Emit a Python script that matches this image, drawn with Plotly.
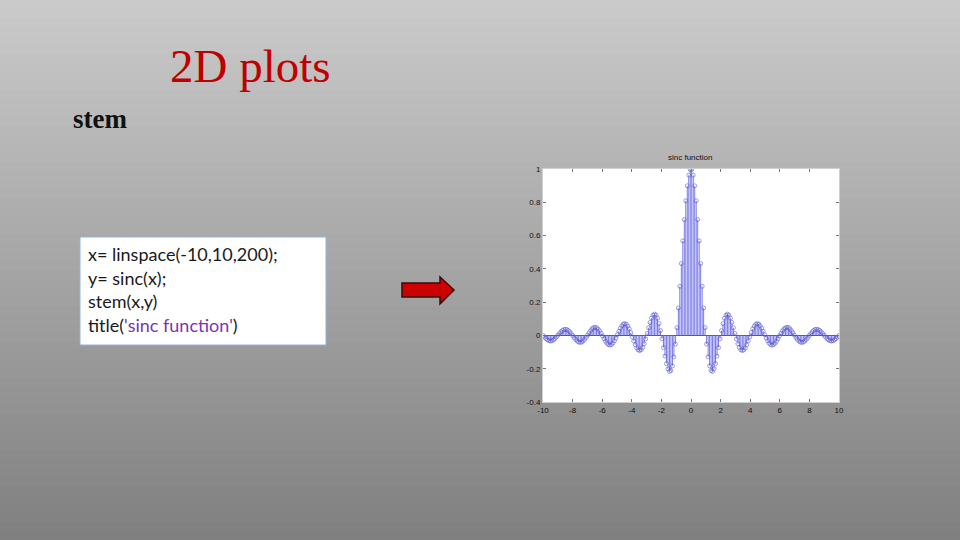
import plotly.graph_objects as go

# ---- data: x = linspace(-10,10,200), y = sinc(x) values ----
x_vals = [
    -10.000, -9.899, -9.799, -9.698, -9.598, -9.497, -9.397, -9.296, -9.196, -9.095,
    -8.995, -8.894, -8.794, -8.693, -8.593, -8.492, -8.392, -8.291, -8.191, -8.090,
    -7.990, -7.889, -7.789, -7.688, -7.588, -7.487, -7.387, -7.286, -7.186, -7.085,
    -6.985, -6.884, -6.784, -6.683, -6.583, -6.482, -6.382, -6.281, -6.181, -6.080,
    -5.980, -5.879, -5.779, -5.678, -5.578, -5.477, -5.377, -5.276, -5.176, -5.075,
    -4.975, -4.874, -4.774, -4.673, -4.573, -4.472, -4.372, -4.271, -4.171, -4.070,
    -3.970, -3.869, -3.769, -3.668, -3.568, -3.467, -3.367, -3.266, -3.166, -3.065,
    -2.965, -2.864, -2.764, -2.663, -2.563, -2.462, -2.362, -2.261, -2.161, -2.060,
    -1.960, -1.859, -1.759, -1.658, -1.558, -1.457, -1.357, -1.256, -1.156, -1.055,
    -0.955, -0.854, -0.754, -0.653, -0.553, -0.452, -0.352, -0.251, -0.151, -0.050,
    0.050, 0.151, 0.251, 0.352, 0.452, 0.553, 0.653, 0.754, 0.854, 0.955,
    1.055, 1.156, 1.256, 1.357, 1.457, 1.558, 1.658, 1.759, 1.859, 1.960,
    2.060, 2.161, 2.261, 2.362, 2.462, 2.563, 2.663, 2.764, 2.864, 2.965,
    3.065, 3.166, 3.266, 3.367, 3.467, 3.568, 3.668, 3.769, 3.869, 3.970,
    4.070, 4.171, 4.271, 4.372, 4.472, 4.573, 4.673, 4.774, 4.874, 4.975,
    5.075, 5.176, 5.276, 5.377, 5.477, 5.578, 5.678, 5.779, 5.879, 5.980,
    6.080, 6.181, 6.281, 6.382, 6.482, 6.583, 6.683, 6.784, 6.884, 6.985,
    7.085, 7.186, 7.286, 7.387, 7.487, 7.588, 7.688, 7.789, 7.889, 7.990,
    8.090, 8.191, 8.291, 8.392, 8.492, 8.593, 8.693, 8.794, 8.894, 8.995,
    9.095, 9.196, 9.296, 9.397, 9.497, 9.598, 9.698, 9.799, 9.899, 10.000,
]
y_vals = [
    0.000, -0.010, -0.019, -0.027, -0.032, -0.034, -0.032, -0.027, -0.020, -0.010,
    0.001, 0.012, 0.022, 0.030, 0.035, 0.037, 0.036, 0.030, 0.022, 0.011,
    -0.001, -0.014, -0.025, -0.034, -0.040, -0.042, -0.040, -0.034, -0.024, -0.012,
    0.002, 0.016, 0.029, 0.040, 0.047, 0.049, 0.046, 0.039, 0.028, 0.013,
    -0.003, -0.020, -0.035, -0.047, -0.055, -0.058, -0.055, -0.046, -0.032, -0.015,
    0.005, 0.025, 0.043, 0.058, 0.068, 0.071, 0.067, 0.056, 0.039, 0.017,
    -0.008, -0.033, -0.056, -0.075, -0.087, -0.091, -0.086, -0.072, -0.050, -0.021,
    0.012, 0.046, 0.078, 0.104, 0.122, 0.128, 0.122, 0.103, 0.071, 0.029,
    -0.020, -0.073, -0.124, -0.169, -0.201, -0.216, -0.211, -0.183, -0.129, -0.052,
    0.047, 0.165, 0.295, 0.432, 0.568, 0.696, 0.809, 0.899, 0.963, 0.996,
    0.996, 0.963, 0.899, 0.809, 0.696, 0.568, 0.432, 0.295, 0.165, 0.047,
    -0.052, -0.129, -0.183, -0.211, -0.216, -0.201, -0.169, -0.124, -0.073, -0.020,
    0.029, 0.071, 0.103, 0.122, 0.128, 0.122, 0.104, 0.078, 0.046, 0.012,
    -0.021, -0.050, -0.072, -0.086, -0.091, -0.087, -0.075, -0.056, -0.033, -0.008,
    0.017, 0.039, 0.056, 0.067, 0.071, 0.068, 0.058, 0.043, 0.025, 0.005,
    -0.015, -0.032, -0.046, -0.055, -0.058, -0.055, -0.047, -0.035, -0.020, -0.003,
    0.013, 0.028, 0.039, 0.046, 0.049, 0.047, 0.040, 0.029, 0.016, 0.002,
    -0.012, -0.024, -0.034, -0.040, -0.042, -0.040, -0.034, -0.025, -0.014, -0.001,
    0.011, 0.022, 0.030, 0.036, 0.037, 0.035, 0.030, 0.022, 0.012, 0.001,
    -0.010, -0.020, -0.027, -0.032, -0.034, -0.032, -0.027, -0.019, -0.010, 0.000,
]
x_ticks = [-10, -8, -6, -4, -2, 0, 2, 4, 6, 8, 10]
x_tick_labels = ["-10", "-8", "-6", "-4", "-2", "0", "2", "4", "6", "8", "10"]
y_ticks = [-0.4, -0.2, 0, 0.2, 0.4, 0.6, 0.8, 1]
y_tick_labels = ["-0.4", "-0.2", "0", "0.2", "0.4", "0.6", "0.8", "1"]

slide_title = "2D plots"
slide_subtitle = "stem"
plot_title = "sinc function"
code_lines = [
    "x= linspace(-10,10,200);",
    "y= sinc(x);",
    "stem(x,y)",
    "title(<span style=\"color:#7a35b0\">'sinc function'</span>)",
]

W, H = 960, 540


def px(x):
    return x / W


def py(y):
    return 1 - y / H


# stems built from the data
stem_x, stem_y = [], []
for xv, yv in zip(x_vals, y_vals):
    stem_x += [xv, xv, None]
    stem_y += [0, yv, None]

fig = go.Figure()
fig.add_trace(go.Scatter(
    x=stem_x, y=stem_y, mode="lines",
    line=dict(color="#7a7ae8", width=1), hoverinfo="skip",
))
fig.add_trace(go.Scatter(
    x=x_vals, y=y_vals, mode="markers",
    marker=dict(symbol="circle-open", size=4, color="#5a5ad0",
                line=dict(width=0.6, color="#5a5ad0")),
))

shapes = []
# background vertical gradient (extends past the paper edges)
n = 60
top, bot = (202, 202, 202), (128, 128, 128)
for j in range(n):
    t = j / (n - 1)
    c = tuple(int(round(top[k] + (bot[k] - top[k]) * t)) for k in range(3))
    y1 = 1 - j / n
    y0 = 1 - (j + 1) / n - 0.002
    if j == 0:
        y1 = 1.05
    if j == n - 1:
        y0 = -0.05
    shapes.append(dict(type="rect", xref="paper", yref="paper",
                       x0=-0.05, x1=1.05, y0=y0, y1=y1,
                       fillcolor="rgb(%d,%d,%d)" % c, line=dict(width=0), layer="below"))
# white plot area
shapes.append(dict(type="rect", xref="x domain", yref="y domain", x0=0, x1=1, y0=0, y1=1,
                   fillcolor="white", line=dict(width=0), layer="below"))
# code box
shapes.append(dict(type="rect", xref="paper", yref="paper",
                   x0=px(80), x1=px(326), y0=py(345), y1=py(237),
                   fillcolor="white", line=dict(color="#8eb4e3", width=1), layer="below"))
# red arrow
pts = [(402, 283), (440, 283), (440, 277), (454, 290), (440, 304), (440, 297), (402, 297)]
path = "M " + " L ".join("%.5f,%.5f" % (px(a), py(b)) for a, b in pts) + " Z"
shapes.append(dict(type="path", xref="paper", yref="paper", path=path,
                   fillcolor="#cc0000", line=dict(color="#3a0a0a", width=1.5), layer="above"))

annotations = [
    dict(text=slide_title, x=px(250), y=py(66), xref="paper", yref="paper",
         xanchor="center", yanchor="middle", showarrow=False,
         font=dict(family="Liberation Serif", size=47, color="#c00000")),
    dict(text="<b>" + slide_subtitle + "</b>", x=px(71), y=py(119), xref="paper", yref="paper",
         xanchor="left", yanchor="middle", showarrow=False,
         font=dict(family="Liberation Serif", size=27, color="#111111")),
    dict(text=plot_title, x=px(690), y=py(158), xref="paper", yref="paper",
         xanchor="center", yanchor="middle", showarrow=False,
         font=dict(family="Liberation Sans", size=8, color="#111111")),
]
code_y = [254, 278, 301, 325]
for line, yy in zip(code_lines, code_y):
    annotations.append(dict(text=line, x=px(86), y=py(yy), xref="paper", yref="paper",
                            xanchor="left", yanchor="middle", showarrow=False,
                            font=dict(family="Lato", size=18, color="#1a1a1a")))

axis_common = dict(showgrid=False, ticks="inside", ticklen=3, tickcolor="#777777",
                   showline=True, linecolor="#cfcfcf", linewidth=1, mirror="ticks",
                   automargin=False,
                   tickfont=dict(family="Liberation Sans", size=8, color="#111111"))

fig.update_layout(
    width=W, height=H, margin=dict(l=0, r=0, t=0, b=0, pad=0, autoexpand=False),
    paper_bgcolor="#a8a8a8", plot_bgcolor="rgba(0,0,0,0)",
    showlegend=False, shapes=shapes, annotations=annotations,
    xaxis=dict(domain=[px(543), px(839)], range=[-10, 10],
               tickvals=x_ticks, ticktext=x_tick_labels, zeroline=False, **axis_common),
    yaxis=dict(domain=[py(402), py(169)], range=[-0.4, 1],
               tickvals=y_ticks, ticktext=y_tick_labels,
               zeroline=True, zerolinecolor="#4a4a80", zerolinewidth=1, **axis_common),
)

fig.write_html("out.html", config={"displayModeBar": False},
               post_script="document.body.style.margin='0px';document.body.style.overflow='hidden';")
